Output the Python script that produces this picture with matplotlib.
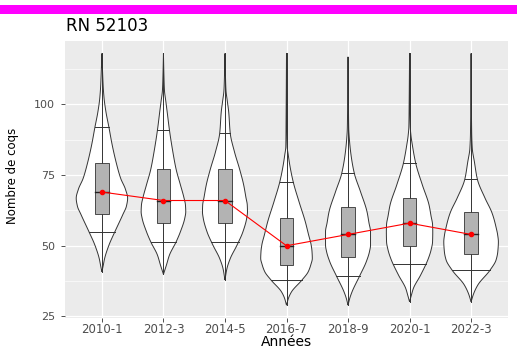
import numpy as np
import matplotlib
matplotlib.use("Agg")
import matplotlib.pyplot as plt
from matplotlib.patches import Rectangle, Polygon

# ---------------- data ----------------
categories = ["2010-1", "2012-3", "2014-5", "2016-7", "2018-9", "2020-1", "2022-3"]
title = "RN 52103"
xlabel = "Années"
ylabel = "Nombre de coqs"
yticks = [25, 50, 75, 100]

# violin outlines: value levels and half-widths (pixels in the reference)
v1_y = [40.8, 43, 45.5, 50.2, 55, 61.1, 64, 66.8, 70, 73.8, 79.1, 85.6, 91.9, 97.4, 102, 106.2, 112, 118]
v1_w = [0, 1.3, 2.7, 7, 13, 21, 24.5, 25.7, 23.5, 18.8, 14.5, 10.3, 7, 4, 2.2, 1.3, 0.6, 0]
v2_y = [39.9, 43.2, 46.7, 51.4, 55, 59.7, 62, 64.4, 67, 71.5, 77, 83, 90.9, 97.4, 101, 105, 110, 118]
v2_w = [0, 3, 6, 12.7, 17, 21.3, 22.3, 22, 20.5, 17, 12.7, 9.5, 6, 3.7, 2.4, 1.0, 0.5, 0]
v3_y = [37.9, 42, 45.5, 50.2, 55, 59.7, 62, 64.4, 67, 71.5, 77, 83.2, 89.7, 97.4, 101, 105, 110, 118]
v3_w = [0, 2, 5.3, 12, 18, 21.7, 22.5, 22.3, 21, 18.7, 14.7, 9.5, 5.3, 3.7, 2.4, 1, 0.5, 0]
v4_y = [29, 31.5, 33.7, 37.9, 40.8, 43.5, 45.5, 48, 50.2, 54, 58.5, 65.6, 72.6, 78.5, 82, 85, 95, 118]
v4_w = [0, 2, 5, 15.5, 21.7, 24.5, 25.8, 25.5, 24.7, 22, 18.8, 12.5, 6.7, 3.3, 1.8, 0.7, 0.4, 0]
v5_y = [29, 31.5, 33.7, 39.4, 44.4, 48, 50.2, 55, 58, 62, 69.1, 75.6, 82.1, 87, 91.5, 100, 116.8]
v5_w = [0, 1.8, 4, 11.7, 18.3, 21.5, 22.5, 22.5, 21, 19, 12.5, 6.3, 3, 1.5, 0.7, 0.4, 0]
v6_y = [30.2, 32.5, 34.9, 39.6, 45.5, 48.5, 51.4, 55, 57.5, 60.5, 64.4, 71.5, 79.1, 85.6, 89, 92.1, 100, 118]
v6_w = [0, 1.8, 3.8, 11, 18.8, 21.5, 23, 23.2, 23, 21.5, 19.5, 12.8, 6.2, 2.8, 1.4, 0.7, 0.4, 0]
v7_y = [30.2, 33, 36.1, 41.4, 45, 47.9, 51.4, 54, 56.5, 59.7, 62, 66.8, 73.5, 79.7, 84.4, 90, 118]
v7_w = [0, 2.5, 6.7, 19, 25, 26.7, 27.3, 26.5, 25, 22.7, 20.5, 14, 6.3, 3.3, 1.2, 0.6, 0]

violin_y = [v1_y, v2_y, v3_y, v4_y, v5_y, v6_y, v7_y]
violin_w = [v1_w, v2_w, v3_w, v4_w, v5_w, v6_w, v7_w]

# horizontal quantile lines inside the violins
q_low = [55.0, 51.4, 51.4, 37.9, 39.4, 43.5, 41.4]
q_high = [91.9, 90.9, 89.7, 72.6, 75.6, 79.1, 73.5]

# boxplots
box_q1 = [61.1, 58.1, 58.1, 43.2, 46.1, 50.0, 47.0]
box_med = [69.0, 66.0, 66.0, 50.0, 54.0, 58.0, 54.0]
box_q3 = [79.1, 77.0, 77.0, 59.9, 63.8, 67.0, 62.0]

# ---------------- style ----------------
W, H = 517, 349
PX_PER_UNIT = 61.53          # pixels per category step in the reference
BOX_W = 0.22
LINE_C = "#333333"

plt.rcParams["font.family"] = ["DejaVu Sans"]

fig = plt.figure(figsize=(W / 100, H / 100), dpi=100)
ax_l, ax_r, ax_t, ax_b = 65, 508, 41, 317.6
ax = fig.add_axes([ax_l / W, 1 - ax_b / H, (ax_r - ax_l) / W, (ax_b - ax_t) / H])
ax.set_facecolor("#EBEBEB")
for s in ax.spines.values():
    s.set_visible(False)

ax.set_xlim(0.4, len(categories) + 0.6)
ax.set_ylim(24.6, 122.4)

# grid
for yv in [37.5, 62.5, 87.5, 112.5]:
    ax.axhline(yv, color="white", lw=0.45, zorder=0)
for yv in yticks:
    ax.axhline(yv, color="white", lw=0.9, zorder=0)
for i in range(len(categories)):
    ax.axvline(i + 1, color="white", lw=0.9, zorder=0)


def pchip(x, y, xn):
    """Monotone cubic (Fritsch-Carlson) curve through the read points, for drawing."""
    x = np.asarray(x, float)
    y = np.asarray(y, float)
    h = np.diff(x)
    d = np.diff(y) / h
    m = np.zeros_like(y)
    for k in range(1, len(x) - 1):
        if d[k - 1] * d[k] > 0:
            w1 = 2 * h[k] + h[k - 1]
            w2 = h[k] + 2 * h[k - 1]
            m[k] = (w1 + w2) / (w1 / d[k - 1] + w2 / d[k])
    m[0] = d[0]
    m[-1] = d[-1]
    idx = np.clip(np.searchsorted(x, xn) - 1, 0, len(x) - 2)
    t = (xn - x[idx]) / h[idx]
    h00 = 2 * t ** 3 - 3 * t ** 2 + 1
    h10 = t ** 3 - 2 * t ** 2 + t
    h01 = -2 * t ** 3 + 3 * t ** 2
    h11 = t ** 3 - t ** 2
    return h00 * y[idx] + h10 * h[idx] * m[idx] + h01 * y[idx + 1] + h11 * h[idx] * m[idx + 1]


for i in range(len(categories)):
    xc = i + 1
    yv = np.asarray(violin_y[i], float)
    yy = np.linspace(yv[0], yv[-1], 400)
    ww = np.clip(pchip(yv, violin_w[i], yy), 0, None)
    hw = ww / PX_PER_UNIT
    xs = np.concatenate([xc - hw, (xc + hw)[::-1]])
    ys = np.concatenate([yy, yy[::-1]])
    ax.add_patch(Polygon(np.column_stack([xs, ys]), closed=True, facecolor="white",
                         edgecolor=LINE_C, lw=0.7, zorder=2))
    # quantile lines
    for qv in (q_low[i], q_high[i]):
        h = np.interp(qv, yy, hw)
        ax.plot([xc - h, xc + h], [qv, qv], color=LINE_C, lw=0.7, zorder=3)
    # vertical line through violin
    ax.plot([xc, xc], [yv[0], yv[-1]], color=LINE_C, lw=0.7, zorder=3)
    # box
    ax.add_patch(Rectangle((xc - BOX_W / 2, box_q1[i]), BOX_W, box_q3[i] - box_q1[i],
                           facecolor="#B3B3B3", edgecolor=LINE_C, lw=0.6, zorder=4))
    ax.plot([xc - BOX_W / 2, xc + BOX_W / 2], [box_med[i], box_med[i]], color="#222222",
            lw=1.0, zorder=5)

xpos = np.arange(1, len(categories) + 1)
ax.plot(xpos, box_med, color="#FF0000", lw=0.8, zorder=6, marker="o", markersize=3,
        markerfacecolor="#FF0000", markeredgecolor="#FF0000")

ax.set_xticks(xpos)
ax.set_xticklabels(categories)
ax.set_yticks(yticks)
ax.set_yticklabels([str(v) for v in yticks])
ax.tick_params(axis="x", length=3.0, width=0.6, color="#333333", pad=1.0,
               labelsize=8.5, labelcolor="#4D4D4D")
ax.tick_params(axis="y", length=3.0, width=0.6, color="#333333", pad=4.0,
               labelsize=8, labelcolor="#4D4D4D")

# texts
fig.text(66 / W, 1 - 31 / H, title, fontsize=12, color="black", ha="left", va="baseline")
fig.text(286.5 / W, 1 - 346.5 / H, xlabel, fontsize=10, color="black", ha="center",
         va="baseline")
fig.text(12.8 / W, 1 - 176 / H, ylabel, fontsize=8.5, color="black", ha="center", va="center",
         rotation=90)

# magenta bar
fig.patches.append(Rectangle((0, 1 - 13.5 / H), 1, 8.5 / H, transform=fig.transFigure,
                             facecolor="#FF00FF", edgecolor="none"))

fig.savefig("out.png", dpi=100)
